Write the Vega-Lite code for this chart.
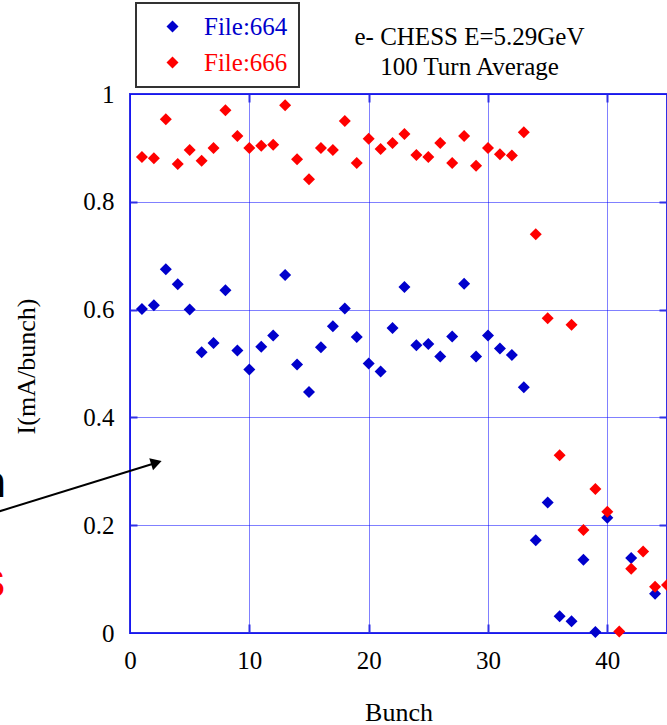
{
  "$schema": "https://vega.github.io/schema/vega-lite/v6.json",
  "width": 537,
  "height": 539,
  "autosize": {"type": "none"},
  "padding": {"left": 130, "top": 94, "right": 0, "bottom": 92},
  "background": "white",
  "title": {
    "text": ["e- CHESS E=5.29GeV", "100 Turn Average"],
    "anchor": "middle",
    "dx": 71,
    "dy": 90,
    "offset": 12,
    "font": "Liberation Serif",
    "fontSize": 25,
    "fontWeight": "normal",
    "color": "black",
    "lineHeight": 30
  },
  "config": {
    "view": {"stroke": "#2f2fe6", "strokeWidth": 2},
    "font": "Liberation Serif",
    "legend": {"strokeWidth": 2}
  },
  "datasets": {
    "points": [
      {"Bunch": 1, "Current": 0.601, "Series": "File:664"},
      {"Bunch": 2, "Current": 0.608, "Series": "File:664"},
      {"Bunch": 3, "Current": 0.675, "Series": "File:664"},
      {"Bunch": 4, "Current": 0.647, "Series": "File:664"},
      {"Bunch": 5, "Current": 0.600, "Series": "File:664"},
      {"Bunch": 6, "Current": 0.521, "Series": "File:664"},
      {"Bunch": 7, "Current": 0.538, "Series": "File:664"},
      {"Bunch": 8, "Current": 0.636, "Series": "File:664"},
      {"Bunch": 9, "Current": 0.524, "Series": "File:664"},
      {"Bunch": 10, "Current": 0.489, "Series": "File:664"},
      {"Bunch": 11, "Current": 0.531, "Series": "File:664"},
      {"Bunch": 12, "Current": 0.552, "Series": "File:664"},
      {"Bunch": 13, "Current": 0.664, "Series": "File:664"},
      {"Bunch": 14, "Current": 0.498, "Series": "File:664"},
      {"Bunch": 15, "Current": 0.447, "Series": "File:664"},
      {"Bunch": 16, "Current": 0.530, "Series": "File:664"},
      {"Bunch": 17, "Current": 0.569, "Series": "File:664"},
      {"Bunch": 18, "Current": 0.602, "Series": "File:664"},
      {"Bunch": 19, "Current": 0.549, "Series": "File:664"},
      {"Bunch": 20, "Current": 0.500, "Series": "File:664"},
      {"Bunch": 21, "Current": 0.485, "Series": "File:664"},
      {"Bunch": 22, "Current": 0.566, "Series": "File:664"},
      {"Bunch": 23, "Current": 0.642, "Series": "File:664"},
      {"Bunch": 24, "Current": 0.534, "Series": "File:664"},
      {"Bunch": 25, "Current": 0.536, "Series": "File:664"},
      {"Bunch": 26, "Current": 0.513, "Series": "File:664"},
      {"Bunch": 27, "Current": 0.550, "Series": "File:664"},
      {"Bunch": 28, "Current": 0.648, "Series": "File:664"},
      {"Bunch": 29, "Current": 0.513, "Series": "File:664"},
      {"Bunch": 30, "Current": 0.552, "Series": "File:664"},
      {"Bunch": 31, "Current": 0.528, "Series": "File:664"},
      {"Bunch": 32, "Current": 0.516, "Series": "File:664"},
      {"Bunch": 33, "Current": 0.456, "Series": "File:664"},
      {"Bunch": 34, "Current": 0.172, "Series": "File:664"},
      {"Bunch": 35, "Current": 0.242, "Series": "File:664"},
      {"Bunch": 36, "Current": 0.031, "Series": "File:664"},
      {"Bunch": 37, "Current": 0.022, "Series": "File:664"},
      {"Bunch": 38, "Current": 0.136, "Series": "File:664"},
      {"Bunch": 39, "Current": 0.002, "Series": "File:664"},
      {"Bunch": 40, "Current": 0.214, "Series": "File:664"},
      {"Bunch": 42, "Current": 0.139, "Series": "File:664"},
      {"Bunch": 44, "Current": 0.073, "Series": "File:664"},
      {"Bunch": 1, "Current": 0.883, "Series": "File:666"},
      {"Bunch": 2, "Current": 0.881, "Series": "File:666"},
      {"Bunch": 3, "Current": 0.953, "Series": "File:666"},
      {"Bunch": 4, "Current": 0.870, "Series": "File:666"},
      {"Bunch": 5, "Current": 0.896, "Series": "File:666"},
      {"Bunch": 6, "Current": 0.876, "Series": "File:666"},
      {"Bunch": 7, "Current": 0.900, "Series": "File:666"},
      {"Bunch": 8, "Current": 0.970, "Series": "File:666"},
      {"Bunch": 9, "Current": 0.922, "Series": "File:666"},
      {"Bunch": 10, "Current": 0.900, "Series": "File:666"},
      {"Bunch": 11, "Current": 0.904, "Series": "File:666"},
      {"Bunch": 12, "Current": 0.906, "Series": "File:666"},
      {"Bunch": 13, "Current": 0.979, "Series": "File:666"},
      {"Bunch": 14, "Current": 0.879, "Series": "File:666"},
      {"Bunch": 15, "Current": 0.842, "Series": "File:666"},
      {"Bunch": 16, "Current": 0.900, "Series": "File:666"},
      {"Bunch": 17, "Current": 0.896, "Series": "File:666"},
      {"Bunch": 18, "Current": 0.950, "Series": "File:666"},
      {"Bunch": 19, "Current": 0.872, "Series": "File:666"},
      {"Bunch": 20, "Current": 0.917, "Series": "File:666"},
      {"Bunch": 21, "Current": 0.898, "Series": "File:666"},
      {"Bunch": 22, "Current": 0.909, "Series": "File:666"},
      {"Bunch": 23, "Current": 0.926, "Series": "File:666"},
      {"Bunch": 24, "Current": 0.887, "Series": "File:666"},
      {"Bunch": 25, "Current": 0.883, "Series": "File:666"},
      {"Bunch": 26, "Current": 0.909, "Series": "File:666"},
      {"Bunch": 27, "Current": 0.872, "Series": "File:666"},
      {"Bunch": 28, "Current": 0.922, "Series": "File:666"},
      {"Bunch": 29, "Current": 0.867, "Series": "File:666"},
      {"Bunch": 30, "Current": 0.900, "Series": "File:666"},
      {"Bunch": 31, "Current": 0.888, "Series": "File:666"},
      {"Bunch": 32, "Current": 0.886, "Series": "File:666"},
      {"Bunch": 33, "Current": 0.929, "Series": "File:666"},
      {"Bunch": 34, "Current": 0.740, "Series": "File:666"},
      {"Bunch": 35, "Current": 0.584, "Series": "File:666"},
      {"Bunch": 36, "Current": 0.330, "Series": "File:666"},
      {"Bunch": 37, "Current": 0.572, "Series": "File:666"},
      {"Bunch": 38, "Current": 0.191, "Series": "File:666"},
      {"Bunch": 39, "Current": 0.267, "Series": "File:666"},
      {"Bunch": 40, "Current": 0.225, "Series": "File:666"},
      {"Bunch": 41, "Current": 0.003, "Series": "File:666"},
      {"Bunch": 42, "Current": 0.119, "Series": "File:666"},
      {"Bunch": 43, "Current": 0.151, "Series": "File:666"},
      {"Bunch": 44, "Current": 0.086, "Series": "File:666"},
      {"Bunch": 45, "Current": 0.089, "Series": "File:666"}
    ],
    "arrow": [
      {"x0": -12, "y0": 0.2185, "x1": 2.21, "y1": 0.316}
    ],
    "head": [
      {"x": 2.21, "y": 0.316}
    ],
    "fragN": [
      {"label": "n", "x": -10.39, "y": 0.252}
    ],
    "fragS": [
      {"label": "S", "x": -10.48, "y": 0.066}
    ]
  },
  "layer": [
    {
      "data": {"name": "points"},
      "mark": {"type": "point", "shape": "diamond", "filled": true, "size": 144, "opacity": 1},
      "encoding": {
        "x": {
          "field": "Bunch", "type": "quantitative",
          "scale": {"domain": [0, 45], "nice": false, "zero": false},
          "axis": {
            "orient": "bottom", "values": [0, 10, 20, 30, 40],
            "title": "Bunch", "titleFont": "Liberation Serif", "titleFontSize": 26, "titleFontWeight": "normal", "titleColor": "black",
            "titleX": 268.5, "titleY": 79, "titleBaseline": "middle", "titleAlign": "center", "titleAnchor": null,
            "labelFont": "Liberation Serif", "labelFontSize": 25, "labelColor": "black", "labelPadding": 15, "labelFlush": false,
            "ticks": false,
            "domain": false,
            "grid": true, "gridColor": "#0000ff", "gridDash": [1, 1], "gridWidth": 1, "gridOpacity": 1
          }
        },
        "y": {
          "field": "Current", "type": "quantitative",
          "scale": {"domain": [0, 1], "nice": false, "zero": false},
          "axis": {
            "orient": "left", "values": [0, 0.2, 0.4, 0.6, 0.8, 1], "format": "~g",
            "title": "I(mA/bunch)", "titleFont": "Liberation Serif", "titleFontSize": 26, "titleFontWeight": "normal", "titleColor": "black",
            "titleX": -104, "titleY": 272, "titleBaseline": "middle", "titleAlign": "center", "titleAngle": -90, "titleAnchor": null,
            "labelFont": "Liberation Serif", "labelFontSize": 25, "labelColor": "black", "labelPadding": 16,
            "ticks": false,
            "domain": false,
            "grid": true, "gridColor": "#0000ff", "gridDash": [1, 1], "gridWidth": 1, "gridOpacity": 1
          }
        },
        "color": {
          "field": "Series", "type": "nominal",
          "scale": {"domain": ["File:664", "File:666"], "range": ["#0000cc", "#ff0000"]},
          "legend": {
            "orient": "none", "legendX": 6, "legendY": -91, "title": null, "direction": "vertical",
            "strokeColor": "#333333", "fillColor": "white", "padding": 11,
            "symbolOffset": 13, "labelOffset": 19, "rowPadding": 10,
            "symbolType": "diamond", "symbolSize": 144, "symbolStrokeWidth": 0,
            "labelFont": "Liberation Serif", "labelFontSize": 25, "labelLimit": 300,
            "labelColor": {"expr": "datum.value === 'File:664' ? '#0000cc' : '#ff0000'"}
          }
        }
      }
    },
    {
      "data": {"name": "arrow"},
      "mark": {"type": "rule", "color": "black", "strokeWidth": 2},
      "encoding": {
        "x": {
          "field": "x0", "type": "quantitative",
          "scale": {"domain": [0, 45], "nice": false, "zero": false},
          "axis": {"orient": "top", "values": [10, 20, 30, 40], "labels": false, "title": null, "domain": false, "grid": false, "ticks": true, "tickSize": 8, "offset": -8, "tickColor": "#2f2fe6", "tickWidth": 2}
        },
        "x2": {"field": "x1"},
        "y": {
          "field": "y0", "type": "quantitative",
          "scale": {"domain": [0, 1], "nice": false, "zero": false},
          "axis": {"orient": "right", "values": [0.2, 0.4, 0.6, 0.8], "labels": false, "title": null, "domain": false, "grid": false, "ticks": true, "tickSize": 8, "offset": -8, "tickColor": "#2f2fe6", "tickWidth": 2}
        },
        "y2": {"field": "y1"}
      }
    },
    {
      "data": {"name": "head"},
      "mark": {"type": "point", "shape": "triangle-right", "filled": true, "color": "black", "size": 160, "angle": -17.3, "opacity": 1},
      "encoding": {
        "x": {
          "field": "x", "type": "quantitative",
          "scale": {"domain": [0, 45], "nice": false, "zero": false},
          "axis": {"orient": "bottom", "values": [10, 20, 30, 40], "labels": false, "title": null, "domain": false, "grid": false, "ticks": true, "tickSize": 9, "offset": -9, "tickColor": "#2f2fe6", "tickWidth": 2}
        },
        "y": {
          "field": "y", "type": "quantitative",
          "scale": {"domain": [0, 1], "nice": false, "zero": false},
          "axis": {"orient": "left", "values": [0.2, 0.4, 0.6, 0.8], "labels": false, "title": null, "domain": false, "grid": false, "ticks": true, "tickSize": 7, "offset": -7, "tickColor": "#2f2fe6", "tickWidth": 2}
        }
      }
    },
    {
      "data": {"name": "fragN"},
      "mark": {"type": "text", "font": "Liberation Sans", "fontWeight": "bold", "fontSize": 44, "align": "right", "baseline": "alphabetic", "color": "black"},
      "encoding": {
        "x": {"field": "x", "type": "quantitative", "axis": null},
        "y": {"field": "y", "type": "quantitative", "axis": null},
        "text": {"field": "label"}
      }
    },
    {
      "data": {"name": "fragS"},
      "mark": {"type": "text", "font": "Liberation Sans", "fontWeight": "bold", "fontSize": 38, "align": "right", "baseline": "alphabetic", "color": "#ff0000"},
      "encoding": {
        "x": {"field": "x", "type": "quantitative", "axis": null},
        "y": {"field": "y", "type": "quantitative", "axis": null},
        "text": {"field": "label"}
      }
    }
  ],
  "resolve": {"axis": {"x": "independent", "y": "independent"}}
}
